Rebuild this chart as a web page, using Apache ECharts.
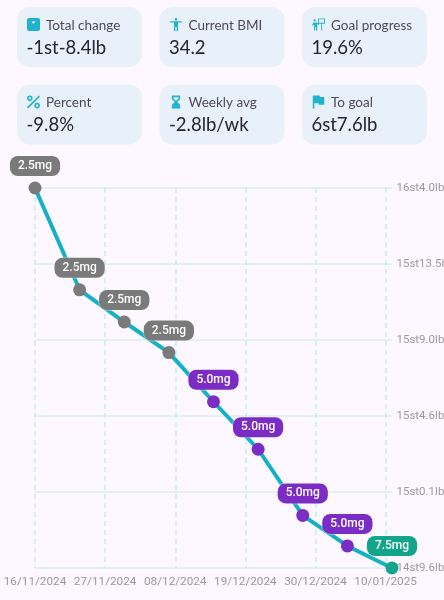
<!DOCTYPE html>
<html>
<head>
<meta charset="utf-8">
<style>html,body{margin:0;padding:0;background:#fdf7ff}#c{width:444px;height:600px}</style>
<script src="https://cdn.jsdelivr.net/npm/echarts@6/dist/echarts.min.js"></script>
</head>
<body>
<div id="c"></div>
<script>
const dates = ['2024-11-16','2024-11-23','2024-11-30','2024-12-07','2024-12-14','2024-12-21','2024-12-28','2025-01-04','2025-01-11'];
const weights = [228.0,222.0,220.1,218.3,215.4,212.6,208.7,206.9,205.6];
const doses = ['2.5mg','2.5mg','2.5mg','2.5mg','5.0mg','5.0mg','5.0mg','5.0mg','7.5mg'];
const doseColors = {'2.5mg':'#7a7a7a','5.0mg':'#7b2cc4','7.5mg':'#12a58c'};
const xTickDates = ['2024-11-16','2024-11-27','2024-12-08','2024-12-19','2024-12-30','2025-01-10'];
const xTickLabels = ['16/11/2024','27/11/2024','08/12/2024','19/12/2024','30/12/2024','10/01/2025'];
const yTickValues = [205.6,210.08,214.56,219.04,223.52,228.0];
const yTickLabels = ['14st9.6lb','15st0.1lb','15st4.6lb','15st9.0lb','15st13.5lb','16st4.0lb'];
const cardTitles = ['Total change','Current BMI','Goal progress','Percent','Weekly avg','To goal'];
const cardValues = ['-1st-8.4lb','34.2','19.6%','-9.8%','-2.8lb/wk','6st7.6lb'];
const cardIcons = [
 'M5 2H19C20.7 2 22 3.3 22 5V19C22 20.7 20.7 22 19 22H5C3.3 22 2 20.7 2 19V5C2 3.3 3.3 2 5 2ZM12 6.5A2 2 0 1 0 12 10.5A2 2 0 1 0 12 6.5Z',
 'M12 2c1.1 0 2 .9 2 2s-.9 2-2 2-2-.9-2-2 .9-2 2-2zm9 7h-6v13h-2v-6h-2v6H9V9H3V7h18v2z',
 'M11 2H23V11H18V23H16.5V11H11ZM12.5 3.5V9.5H21.5V3.5ZM5 3.5A2 2 0 1 1 5 7.5A2 2 0 1 1 5 3.5ZM3 9H9L13 12L12 13.5L9.5 11.8V23H7.5V17H6V23H4V12L2 14.5L.5 13.5Z',
 'M7.5 4C5.57 4 4 5.57 4 7.5S5.57 11 7.5 11 11 9.43 11 7.5 9.43 4 7.5 4zm0 5C6.67 9 6 8.33 6 7.5S6.67 6 7.5 6 9 6.67 9 7.5 8.33 9 7.5 9zm9 4c-1.93 0-3.5 1.57-3.5 3.5s1.57 3.5 3.5 3.5 3.5-1.57 3.5-3.5-1.57-3.5-3.5-3.5zm0 5c-.83 0-1.5-.67-1.5-1.5s.67-1.5 1.5-1.5 1.5.67 1.5 1.5-.67 1.5-1.5 1.5zM5.41 20 4 18.59 18.59 4 20 5.41 5.41 20z',
 'M5 1H19V7.5L14 12L19 16.5V23H5V16.5L10 12L5 7.5ZM8 4V6.5L12 10L16 6.5V4Z',
 'M14.4 6 14 4H5v17h2v-7h5.6l.4 2h7V6z'
];
const cardX = [17,159.5,302];
const cardY = [7,84.5];
const iconColor = '#1fb4cc';
const uiFont = 'Lato, "Noto Sans", sans-serif';

const ms = s => Date.parse(s + 'T00:00:00Z');
const xTicks = xTickDates.map(ms);
const graphics = [];
cardTitles.forEach((t, i) => {
  const x = cardX[i % 3], y = cardY[Math.floor(i / 3)];
  graphics.push({type:'rect', shape:{x, y, width:125, height:60, r:13}, style:{fill:'#e8f1f9'}, silent:true, z:1});
  graphics.push({type:'text', x:x+29, y:y+18.5, style:{text:t, font:'13.5px '+uiFont, fill:'#4d4a55', textVerticalAlign:'middle'}, silent:true, z:2});
  graphics.push({type:'text', x:x+9.5, y:y+41, style:{text:cardValues[i], font:'18.5px '+uiFont, fill:'#25232b', textVerticalAlign:'middle'}, silent:true, z:2});
});

const chart = echarts.init(document.getElementById('c'), null, {renderer:'canvas', width:444, height:600});
chart.setOption({
  backgroundColor:'#fdf7ff',
  animation:false,
  graphic:graphics,
  grid:{left:35, right:52, top:188, bottom:32, containLabel:false, outerBoundsMode:'none'},
  xAxis:{
    type:'value', min:ms(dates[0]), max:ms(dates[dates.length-1]),
    axisLine:{show:false}, axisTick:{show:false, customValues:xTicks},
    axisLabel:{
      customValues:xTicks, color:'#9c999d', fontFamily:'Roboto', fontSize:11.75, margin:8, hideOverlap:false,
      showMinLabel:true, showMaxLabel:true,
      formatter:v => xTickLabels[xTicks.indexOf(v)] || ''
    },
    splitLine:{show:true, lineStyle:{color:'#bfeef6', type:[5,4], width:1.5}}
  },
  yAxis:{
    type:'value', position:'right', min:yTickValues[0], max:yTickValues[5],
    axisLine:{show:false}, axisTick:{show:false, customValues:yTickValues},
    axisLabel:{
      customValues:yTickValues, color:'#9c999d', fontFamily:'Roboto', fontSize:11.5, margin:4.5, align:'left', padding:[3,0,0,0],
      formatter:v => yTickLabels[yTickValues.indexOf(v)] || ''
    },
    splitLine:{show:true, lineStyle:{color:'#d9eef5', width:1.5}}
  },
  series:[{
    type:'line', clip:false, z:5,
    symbol:'circle', symbolSize:13, showSymbol:true,
    lineStyle:{color:'#14b0c4', width:4},
    data:dates.map((d,i)=>({
      value:[ms(d),weights[i]],
      itemStyle:{color:doseColors[doses[i]]},
      label:{
        show:true, position:'top', distance:5.5, formatter:doses[i],
        backgroundColor:doseColors[doses[i]], color:'#fff',
        borderColor:'rgba(255,255,255,0.35)', borderWidth:1,
        borderRadius:8, padding:[4,8],
        fontFamily:'Roboto', fontWeight:500, fontSize:12, lineHeight:12
      }
    }))
  },{
    type:'custom', coordinateSystem:'none', silent:true, z:6,
    data:cardTitles.map((t,i)=>i),
    renderItem:(params) => {
      const i = params.dataIndex;
      const x = cardX[i % 3], y = cardY[Math.floor(i / 3)];
      return {type:'path', shape:{pathData:cardIcons[i], x:x+10, y:y+11, width:13, height:13, layout:'center'}, style:{fill:iconColor}};
    }
  }]
});
</script>
</body>
</html>
